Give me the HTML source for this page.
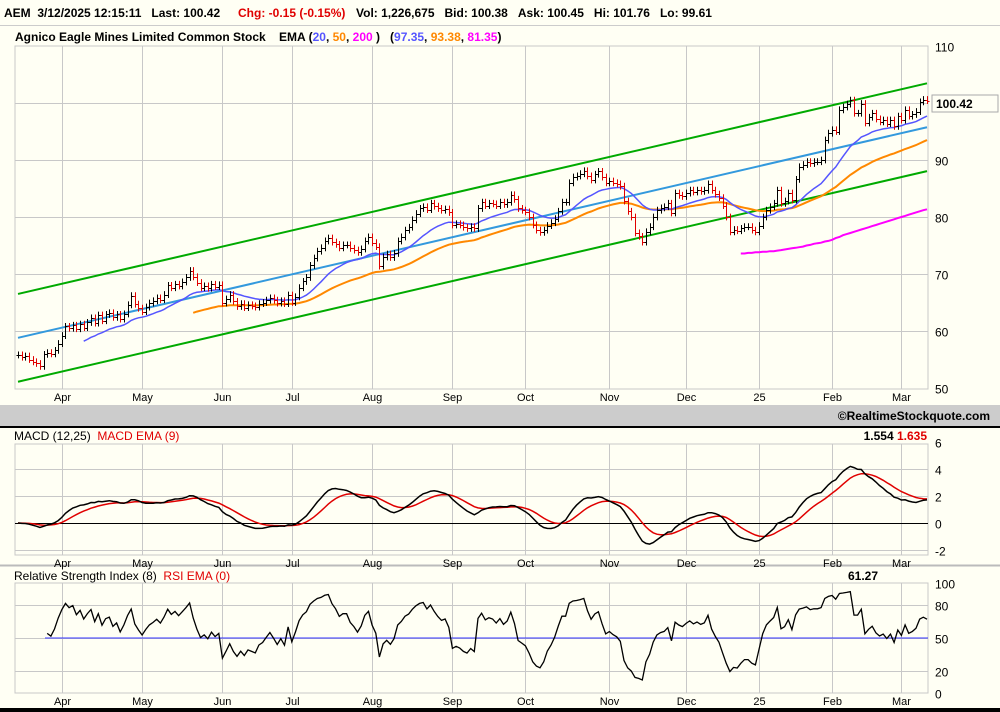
<!DOCTYPE html>
<html><head><meta charset="utf-8"><style>
html,body{margin:0;padding:0;background:#fffff4;}
svg{display:block;font-family:"Liberation Sans",sans-serif;}
</style></head><body>
<svg id="c" width="1000" height="712" viewBox="0 0 1000 712">
<rect x="0" y="0" width="1000" height="712" fill="#fffff4"/>
<g font-size="12" font-weight="bold">
<text x="4" y="17">AEM&#160;&#160;3/12/2025 12:15:11&#160;&#160;&#160;Last: 100.42</text>
<text x="238" y="17" fill="#e00000">Chg: -0.15 (-0.15%)</text>
<text x="356" y="17">Vol: 1,226,675&#160;&#160;&#160;Bid: 100.38&#160;&#160;&#160;Ask: 100.45&#160;&#160;&#160;Hi: 101.76&#160;&#160;&#160;Lo: 99.61</text>
</g>
<line x1="0" y1="25.5" x2="1000" y2="25.5" stroke="#cccccc"/>
<g font-size="12" font-weight="bold">
<text x="15" y="41">Agnico Eagle Mines Limited Common Stock&#160;&#160;&#160;&#160;EMA (<tspan fill="#5555ff">20</tspan>, <tspan fill="#ff8800">50</tspan>, <tspan fill="#ff00ff">200</tspan> )&#160;&#160;&#160;(<tspan fill="#5555ff">97.35</tspan>, <tspan fill="#ff8800">93.38</tspan>, <tspan fill="#ff00ff">81.35</tspan>)</text>
</g>
<rect x="0" y="405" width="1000" height="21" fill="#cccccc"/>
<text x="990" y="420" font-size="12" font-weight="bold" text-anchor="end">©RealtimeStockquote.com</text>
<rect x="0" y="426" width="1000" height="2" fill="#000"/>
<line x1="0" y1="565.5" x2="1000" y2="565.5" stroke="#bbbbbb" stroke-width="2"/>
<rect x="0" y="708" width="1000" height="4" fill="#000"/>
<g font-size="12">
<text x="14" y="440">MACD (12,25)&#160;&#160;<tspan fill="#e00000">MACD EMA (9)</tspan></text>
<text x="927" y="440" text-anchor="end" font-weight="bold">1.554 <tspan fill="#e00000">1.635</tspan></text>
</g>
<g font-size="12">
<text x="14" y="580">Relative Strength Index (8)&#160;&#160;<tspan fill="#e00000">RSI EMA (0)</tspan></text>
<text x="878" y="580" text-anchor="end" font-weight="bold">61.27</text>
</g>
<g id="grid"></g>
<g id="marks"></g>
<g id="labels" font-size="11"></g>
<rect x="932" y="95" width="66" height="17" fill="#fffff4" stroke="#aaaaaa"/>
<text x="936" y="108" font-size="12" font-weight="bold">100.42</text>
</svg>
<script>
const closes=[55.8,55.4,55.6,55.0,54.6,54.3,53.8,55.9,56.2,56.0,
56.6,57.8,59.2,60.8,60.5,61.0,60.4,61.2,60.6,61.5,
62.3,61.4,62.8,61.8,62.9,63.2,62.4,62.9,62.1,63.0,
64.6,66.2,64.7,64.0,63.4,64.2,64.9,65.3,65.8,65.5,
66.4,68.0,67.6,68.2,67.9,68.6,69.4,70.6,69.5,68.5,
67.6,67.9,67.5,68.2,67.8,68.1,64.9,65.6,66.4,65.2,
64.3,64.8,64.1,64.6,64.4,64.2,64.8,65.0,65.4,65.8,
65.4,64.9,65.3,64.8,66.3,65.0,66.0,67.6,68.7,69.4,
71.5,72.8,74.0,74.6,75.8,76.3,75.6,75.2,74.6,75.1,
75.1,74.5,74.2,73.8,74.4,75.8,76.5,75.5,74.8,71.4,
73.0,73.5,72.9,73.6,75.8,76.5,77.7,78.2,79.5,80.6,
81.5,81.8,81.3,82.4,81.9,81.5,81.2,81.4,80.8,78.6,
78.8,78.6,78.2,78.0,78.3,78.0,81.5,82.6,82.0,82.4,
82.3,82.0,82.6,82.2,82.6,83.9,83.1,81.5,81.2,80.9,
80.0,78.6,77.7,77.3,77.7,78.5,79.0,79.7,81.0,82.6,
82.6,86.0,87.0,87.2,87.6,88.1,87.2,86.5,87.5,88.0,
87.0,86.0,86.3,86.0,85.8,85.4,82.8,81.0,80.0,77.2,
76.6,75.6,77.4,78.3,80.0,81.2,81.6,81.8,82.4,80.7,
84.2,83.8,83.6,84.2,84.7,84.4,84.7,84.5,84.7,85.8,
84.7,84.0,83.4,82.0,80.0,77.4,77.8,77.6,78.0,78.3,
78.3,77.7,77.4,78.5,80.0,81.2,81.8,82.4,84.7,82.4,
82.8,84.2,83.0,86.6,88.8,89.2,89.7,89.4,89.7,89.7,
90.0,93.5,94.7,95.3,95.0,98.8,99.3,99.8,100.5,98.2,
98.2,99.9,96.5,97.5,98.2,97.2,96.7,97.0,96.4,97.0,
95.9,97.7,97.0,98.8,97.7,98.0,98.5,100.2,100.6,100.42];
const ema200Start=198;
const ema200=[73.6,73.6,73.7,73.7,73.8,73.8,73.9,73.9,74.0,74.0,
74.1,74.2,74.3,74.4,74.5,74.6,74.7,74.8,75.0,75.1,
75.3,75.4,75.5,75.7,75.8,76.0,76.3,76.5,76.8,77.0,
77.2,77.4,77.6,77.8,78.0,78.2,78.4,78.6,78.8,79.0,
79.2,79.4,79.6,79.8,80.0,80.2,80.4,80.6,80.8,81.0,
81.2,81.35];
const channelHalfWidth=[7.7];
const monthLabels=["Apr","May","Jun","Jul","Aug","Sep","Oct","Nov","Dec","25","Feb","Mar"];
const monthIdx=[12,34,56,75,97,119,139,162,183,203,223,242];
const priceTicks=[50,60,70,80,90,100,110];
const macdTicks=[-2,0,2,4,6];
const rsiTicks=[0,20,50,80,100];

const NS="http://www.w3.org/2000/svg";
const N=closes.length;
const X0=18,DX=(927-18)/(N-1);
const xs=i=>X0+i*DX;
const yP=v=>46+(110-v)*5.7;
const yM=v=>523-v*13.5;
const yR=v=>693-v*1.1;
function el(tag,attrs,parent){const e=document.createElementNS(NS,tag);for(const k in attrs)e.setAttribute(k,attrs[k]);parent.appendChild(e);return e;}
const grid=document.getElementById('grid'),marks=document.getElementById('marks'),labels=document.getElementById('labels');

const panels=[{t:46,b:389,ticks:priceTicks,f:yP,name:'price'},{t:444,b:555,ticks:macdTicks,f:yM,name:'macd'},{t:583,b:693,ticks:rsiTicks,f:yR,name:'rsi'}];
panels.forEach(p=>{
  const fr=el('rect',{x:15,y:p.t,width:913,height:p.b-p.t,fill:'none',stroke:'#c8c8c8'},grid);
  
  
  monthIdx.forEach((mi,j)=>{
    const gx=Math.round(xs(mi))+0.5;
    el('line',{x1:gx,y1:p.t,x2:gx,y2:p.b,stroke:'#c8c8c8'},grid);
    const t=el('text',{x:gx,y:p.b+12,'text-anchor':'middle'},labels);
    
    
    t.textContent=monthLabels[j];
  });
  p.ticks.forEach(v=>{
    const gy=Math.round(p.f(v))+0.5;
    if(gy>p.t+1&&gy<p.b-1) el('line',{x1:15,y1:gy,x2:928,y2:gy,stroke:'#c8c8c8'},grid);
    const t=el('text',{x:935,y:gy+5,'font-size':'12'},labels);
    
    
    t.textContent=v;
  });
});

function ema(arr,n){const k=2/(n+1);const o=[arr[0]];for(let i=1;i<arr.length;i++)o.push(arr[i]*k+o[i-1]*(1-k));return o;}
const e20=ema(closes,20),e50=ema(closes,50);
const e12=ema(closes,12),e25=ema(closes,25);
const macd=e12.map((v,i)=>v-e25[i]);
const sig=ema(macd,9);
const rsi=[];{let ag=0,al=0;const n=8;for(let i=1;i<N;i++){const d=closes[i]-closes[i-1];const g=Math.max(d,0),l=Math.max(-d,0);if(i<=n){ag+=g/n;al+=l/n;}else{ag=(ag*(n-1)+g)/n;al=(al*(n-1)+l)/n;}rsi[i]=al===0?100:100-100/(1+ag/al);}}

let sx=0,sy=0,sxx=0,sxy=0;closes.forEach((c,i)=>{sx+=i;sy+=c;sxx+=i*i;sxy+=i*c;});
const slope=(N*sxy-sx*sy)/(N*sxx-sx*sx),icpt=(sy-slope*sx)/N;
const md=channelHalfWidth[0];
[[md,'#00aa00','channel-upper'],[0,'#3399dd','regression-line'],[-md,'#00aa00','channel-lower']].forEach(([o,col,nm])=>{
  const l=el('line',{x1:xs(0),y1:yP(icpt+o),x2:xs(N-1),y2:yP(icpt+slope*(N-1)+o),stroke:col,'stroke-width':2},marks);
  
  
});

function poly(vals,f,start,col,w,nm,offset){
  const pts=[];for(let i=start;i<vals.length;i++){if(vals[i]===undefined)continue;pts.push(xs(i+(offset||0)).toFixed(1)+','+f(vals[i]).toFixed(1));}
  const p=el('polyline',{points:pts.join(' '),fill:'none',stroke:col,'stroke-width':w},marks);
  
  
}
poly(e50,yP,48,'#ff8800',2,'ema50-line');
poly(e20,yP,18,'#5555ff',1.5,'ema20-line');
poly(ema200,yP,0,'#ff00ff',2,'ema200-line',ema200Start);

for(let i=0;i<N;i++){
  const o=i?closes[i-1]:closes[i],c=closes[i];
  const hi=Math.max(o,c)+0.6,lo=Math.min(o,c)-0.6;
  const col=c<o?'#e00000':'#000';
  const x=Math.round(xs(i))+0.5;
  const g=el('g',{stroke:col,'stroke-width':1},marks);
  
  
  el('line',{x1:x,y1:yP(hi),x2:x,y2:yP(lo)},g);
  el('line',{x1:x-2,y1:Math.round(yP(o))+0.5,x2:x,y2:Math.round(yP(o))+0.5},g);
  el('line',{x1:x,y1:Math.round(yP(c))+0.5,x2:x+2,y2:Math.round(yP(c))+0.5},g);
}

const zl=el('line',{x1:15,y1:523.5,x2:928,y2:523.5,stroke:'#000'},marks);


poly(sig,yM,0,'#e00000',1.5,'macd-signal-line');
poly(macd,yM,0,'#000',1.5,'macd-line');
const rl=el('line',{x1:45,y1:yR(50),x2:928,y2:yR(50),stroke:'#3333ff'},marks);


poly(rsi,yR,8,'#000',1.3,'rsi-line');
</script>
</body></html>
